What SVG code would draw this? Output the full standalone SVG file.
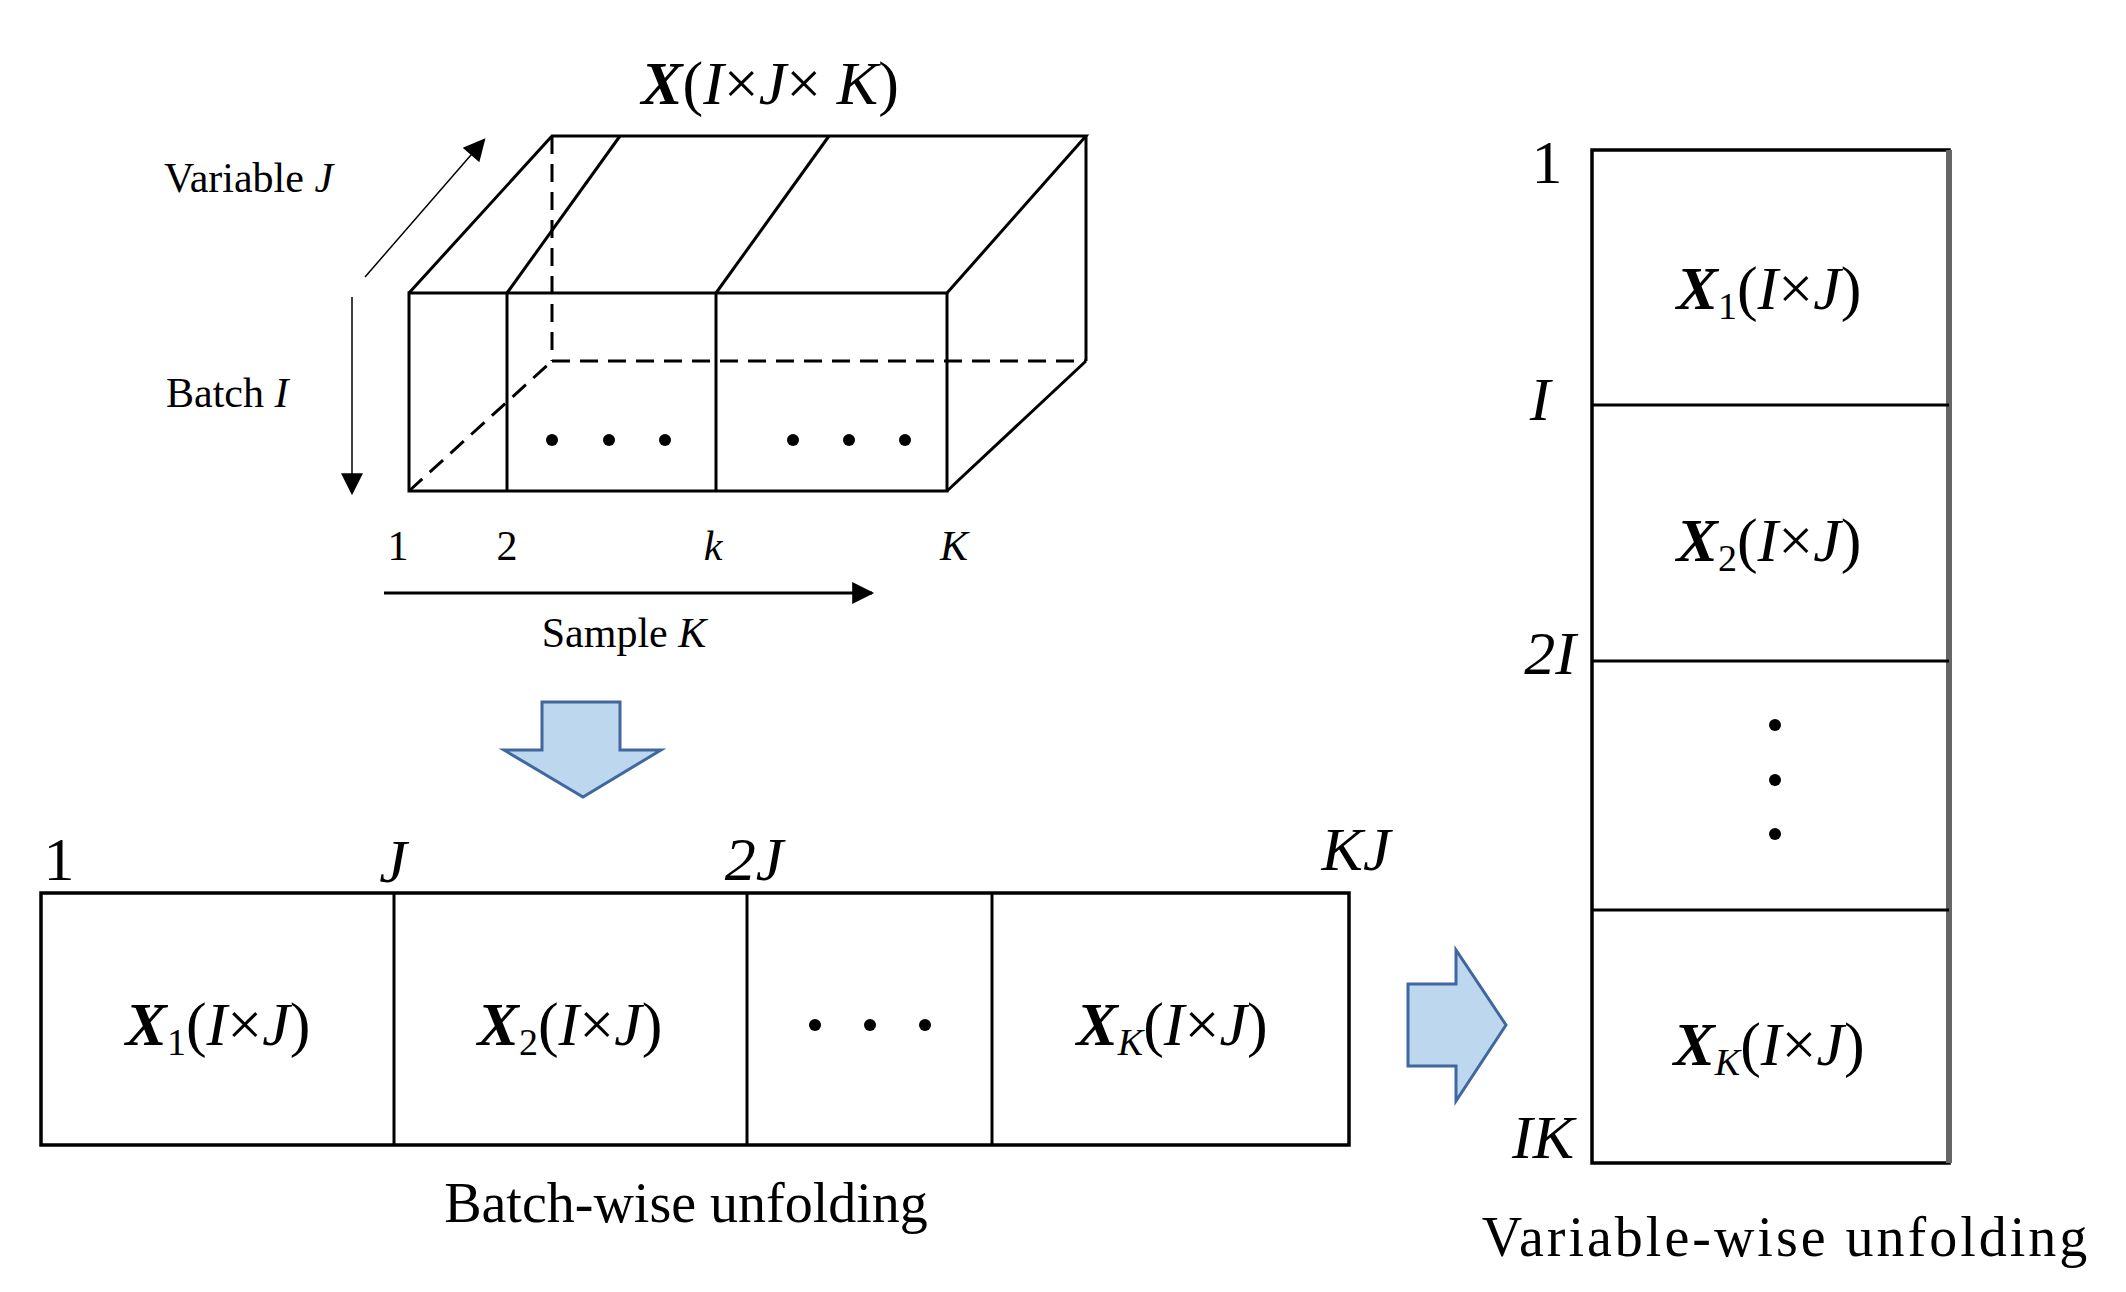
<svg xmlns="http://www.w3.org/2000/svg" width="2126" height="1292" viewBox="0 0 2126 1292" font-family="'Liberation Serif', 'Times New Roman', 'DejaVu Serif', serif">
<defs>
<marker id="ah2" viewBox="0 0 10 10" refX="9" refY="5" markerWidth="28" markerHeight="22" markerUnits="userSpaceOnUse" orient="auto">
<path d="M0,0 L10,5 L0,10 z" fill="#000"/>
</marker>
</defs>
<style>
text{font-family:'Liberation Serif','Times New Roman','DejaVu Serif',serif;fill:#000}
.s{stroke:#000;stroke-width:3;fill:none}
.d{stroke:#000;stroke-width:3;fill:none;stroke-dasharray:18 10}
.box{stroke:#000;stroke-width:3.5;fill:#fff}
.blue{fill:#bdd7ee;stroke:#41679f;stroke-width:3}
.lab{font-size:62px;text-anchor:middle}
.ax{font-size:42px}
.i{font-style:italic}
.b{font-weight:bold;font-style:italic}
</style>
<rect width="2126" height="1292" fill="#fff"/>
<g id="cube">
<text x="770" y="104" font-size="62" text-anchor="middle"><tspan class="b">X</tspan>(<tspan class="i">I</tspan>×<tspan class="i">J</tspan>× <tspan class="i">K</tspan>)</text>
<rect x="409" y="293" width="538" height="198" class="s"/>
<line x1="507" y1="293" x2="507" y2="491" class="s"/>
<line x1="716" y1="293" x2="716" y2="491" class="s"/>
<polyline points="409,293 552,136 1086,136 947,293" class="s"/>
<line x1="1086" y1="136" x2="1086" y2="361" class="s"/>
<line x1="1086" y1="361" x2="947" y2="491" class="s"/>
<line x1="507" y1="293" x2="620" y2="136" class="s"/>
<line x1="716" y1="293" x2="829" y2="136" class="s"/>
<line x1="552" y1="136" x2="552" y2="361" class="d"/>
<line x1="552" y1="361" x2="1086" y2="361" class="d"/>
<line x1="409" y1="491" x2="552" y2="361" class="d"/>
<g fill="#000"><circle cx="552" cy="440" r="6"/><circle cx="609" cy="440" r="6"/><circle cx="665" cy="440" r="6"/><circle cx="793" cy="440" r="6"/><circle cx="849" cy="440" r="6"/><circle cx="905" cy="440" r="6"/></g>
<text x="164" y="192" class="ax">Variable <tspan class="i">J</tspan></text>
<text x="166" y="407" class="ax">Batch <tspan class="i">I</tspan></text>
<text x="398" y="560" class="ax" text-anchor="middle">1</text>
<text x="507" y="560" class="ax" text-anchor="middle">2</text>
<text x="713" y="560" class="ax i" text-anchor="middle">k</text>
<text x="954" y="560" class="ax i" text-anchor="middle">K</text>
<text x="624" y="647" class="ax" text-anchor="middle">Sample <tspan class="i">K</tspan></text>
</g>
<g id="connectors">
<line x1="365" y1="277" x2="484" y2="140" stroke="#000" stroke-width="1.5" marker-end="url(#ah2)"/>
<line x1="352" y1="297" x2="352" y2="493" stroke="#000" stroke-width="1.5" marker-end="url(#ah2)"/>
<line x1="384" y1="593" x2="872" y2="593" stroke="#000" stroke-width="3" marker-end="url(#ah2)"/>
<polygon class="blue" points="542,702 620,702 620,750 661,750 583,797 504,750 542,750"/>
<polygon class="blue" points="1408,984 1456,984 1456,950 1506,1025 1456,1101 1456,1066 1408,1066"/>
</g>
<g id="batchwise">
<rect x="41" y="893" width="1308" height="252" class="box"/>
<line x1="394" y1="893" x2="394" y2="1145" class="s"/>
<line x1="747" y1="893" x2="747" y2="1145" class="s"/>
<line x1="992" y1="893" x2="992" y2="1145" class="s"/>
<text x="59" y="880" class="lab">1</text>
<text x="393" y="882" class="lab i">J</text>
<text x="754" y="880" class="lab i">2J</text>
<text x="1356" y="870" class="lab i">KJ</text>
<text x="218" y="1045" class="lab"><tspan class="b">X</tspan><tspan font-size="38" dy="10">1</tspan><tspan dy="-10">(</tspan><tspan class="i">I</tspan>×<tspan class="i">J</tspan>)</text>
<text x="570" y="1045" class="lab"><tspan class="b">X</tspan><tspan font-size="38" dy="10">2</tspan><tspan dy="-10">(</tspan><tspan class="i">I</tspan>×<tspan class="i">J</tspan>)</text>
<text x="1172" y="1045" class="lab"><tspan class="b">X</tspan><tspan font-size="38" dy="10" class="i">K</tspan><tspan dy="-10">(</tspan><tspan class="i">I</tspan>×<tspan class="i">J</tspan>)</text>
<g fill="#000"><circle cx="815" cy="1025" r="6"/><circle cx="870" cy="1025" r="6"/><circle cx="925" cy="1025" r="6"/></g>
<text x="686" y="1222" font-size="56" text-anchor="middle">Batch-wise unfolding</text>
</g>
<g id="variablewise">
<rect x="1592" y="150" width="357" height="1013" class="box"/>
<line x1="1949" y1="150" x2="1949" y2="1163" stroke="#666" stroke-width="6"/>
<line x1="1592" y1="405" x2="1949" y2="405" class="s"/>
<line x1="1592" y1="661" x2="1949" y2="661" class="s"/>
<line x1="1592" y1="910" x2="1949" y2="910" class="s"/>
<text x="1547" y="183" class="lab">1</text>
<text x="1540" y="420" class="lab i">I</text>
<text x="1550" y="674" class="lab i">2I</text>
<text x="1543" y="1158" class="lab i">IK</text>
<text x="1769" y="309" class="lab"><tspan class="b">X</tspan><tspan font-size="38" dy="10">1</tspan><tspan dy="-10">(</tspan><tspan class="i">I</tspan>×<tspan class="i">J</tspan>)</text>
<text x="1769" y="561" class="lab"><tspan class="b">X</tspan><tspan font-size="38" dy="10">2</tspan><tspan dy="-10">(</tspan><tspan class="i">I</tspan>×<tspan class="i">J</tspan>)</text>
<text x="1769" y="1065" class="lab"><tspan class="b">X</tspan><tspan font-size="38" dy="10" class="i">K</tspan><tspan dy="-10">(</tspan><tspan class="i">I</tspan>×<tspan class="i">J</tspan>)</text>
<g fill="#000"><circle cx="1775" cy="725" r="6"/><circle cx="1775" cy="780" r="6"/><circle cx="1775" cy="834" r="6"/></g>
<text x="1786" y="1256" font-size="56" text-anchor="middle" letter-spacing="3">Variable-wise unfolding</text>
</g>
</svg>
